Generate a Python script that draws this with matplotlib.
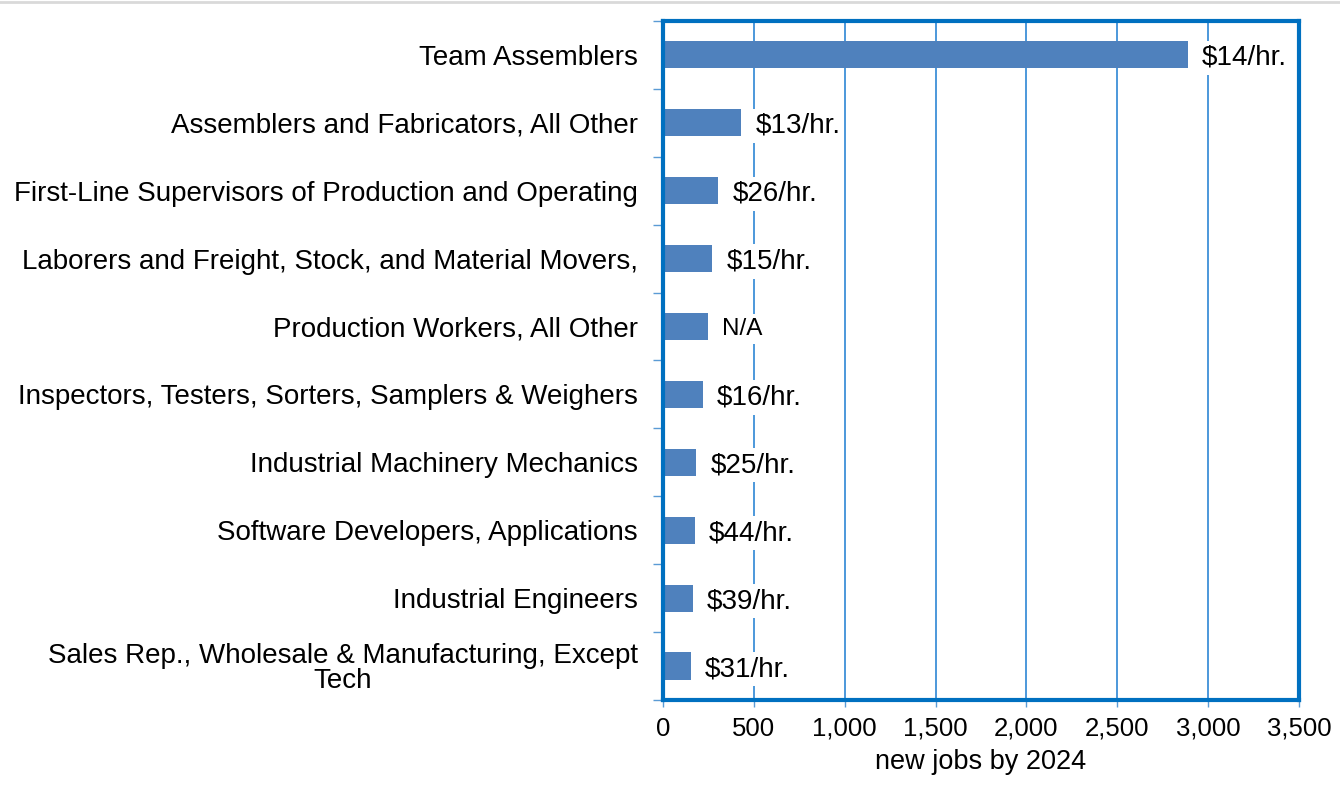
import matplotlib.pyplot as plt
from matplotlib.lines import Line2D

plt.rcParams['font.family'] = ['Liberation Sans', 'DejaVu Sans']

occupations = [
    "Team Assemblers",
    "Assemblers and Fabricators, All Other",
    "First-Line Supervisors of Production and Operating",
    "Laborers and Freight, Stock, and Material Movers,",
    "Production Workers, All Other",
    "Inspectors, Testers, Sorters, Samplers & Weighers",
    "Industrial Machinery Mechanics",
    "Software Developers, Applications",
    "Industrial Engineers",
    "Sales Rep., Wholesale & Manufacturing, Except\nTech",
]
new_jobs = [2887, 431, 305, 272, 250, 219, 184, 175, 166, 155]
wages = ["$14/hr.", "$13/hr.", "$26/hr.", "$15/hr.", "N/A",
         "$16/hr.", "$25/hr.", "$44/hr.", "$39/hr.", "$31/hr."]
x_ticks = [0, 500, 1000, 1500, 2000, 2500, 3000, 3500]

blue_frame = "#0070c0"
bar_color = "#4f81bd"

fig = plt.figure(figsize=(13.4, 7.88), dpi=100)
ax = fig.add_axes([0.4948, 0.1117, 0.4746, 0.8617])

y = list(range(len(occupations)))
ax.barh(y, new_jobs, height=0.4, color=bar_color, zorder=3)

for yi, val, lab in zip(y, new_jobs, wages):
    fs = 17.5 if lab == "N/A" else 20
    ax.annotate(lab, (val, yi), xytext=(10, 0), textcoords="offset points",
                ha="left", va="center_baseline", fontsize=fs, color="black", zorder=4,
                bbox=dict(boxstyle="square,pad=0.15", fc="white", ec="none"))

ax.set_xlim(0, 3500)
ax.set_ylim(len(occupations) - 0.5, -0.5)
ax.set_xticks(x_ticks)
ax.set_xticklabels([f"{t:,}" for t in x_ticks], fontsize=18.5)
ax.set_xlabel("new jobs by 2024", fontsize=19.5, labelpad=6)

ax.set_yticks(y)
ax.set_yticklabels(occupations, fontsize=20, multialignment="center", linespacing=0.95)
ax.tick_params(axis="y", length=0, pad=18)
ax.set_yticks([i - 0.5 for i in range(len(occupations) + 1)], minor=True)
ax.tick_params(axis="y", which="minor", length=7, width=1, color="#5b9bd5", direction="out")
ax.tick_params(axis="x", length=5, width=1, color="#5b9bd5", direction="out", pad=7)

ax.grid(axis="x", color="#2e86d4", linewidth=1.2, zorder=1)
ax.set_axisbelow(True)
for s in ax.spines.values():
    s.set_color(blue_frame)
    s.set_linewidth(3)
    s.set_zorder(5)

# thin gray border line at top of image
fig.add_artist(Line2D([0, 1], [0.998, 0.998], transform=fig.transFigure,
                      color="#d9d9d9", linewidth=2))

fig.savefig("out.png", dpi=100)
